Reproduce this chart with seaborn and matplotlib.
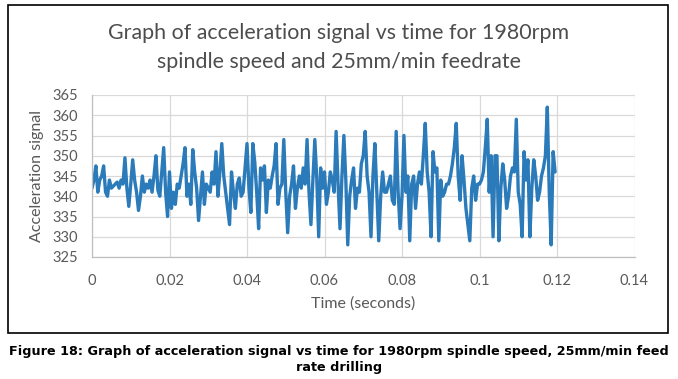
import matplotlib
matplotlib.use("Agg")
import matplotlib.pyplot as plt
import numpy as np
import pandas as pd
import seaborn as sns
from matplotlib.patches import Rectangle

# acceleration readings, 0.0005 s apart
accel = [
    342, 344, 347.5, 341, 344, 345, 347.5, 341, 340, 344,
    342, 342.5, 343, 343.5, 342, 344, 343, 349.5, 342, 337.5,
    343, 349, 344, 341, 336.5, 340, 345, 341, 343, 342,
    344, 341, 345, 350, 341.5, 340, 346, 352, 341, 335,
    346, 337, 341, 338, 343, 342, 345, 348, 352, 340,
    343, 338, 351.5, 346, 342, 334, 340, 346, 338, 343,
    342, 341, 346, 343, 351, 340, 346, 353, 345, 341,
    337, 333, 346, 341, 337, 343, 344.5, 340, 341, 347,
    353, 342, 336, 353, 348.5, 341, 332, 347, 344, 347.5,
    336, 344, 342, 345, 347.5, 353, 338, 342, 343, 354,
    341, 331, 340, 343, 347.5, 337, 342, 345, 342, 347,
    343, 354, 341, 333, 344, 354, 344.5, 330, 347, 342,
    346, 338, 341, 346, 344, 341, 356, 343, 332, 345,
    355, 344, 328, 340, 344, 347, 337, 342, 341, 348,
    350, 356, 345, 341, 330, 345, 353, 341, 329, 340,
    346, 341, 341, 343, 345, 339, 338, 356, 341, 332,
    340, 355, 341, 345, 329, 343, 345, 337, 343, 346,
    343, 350, 358, 346, 341, 330, 351, 346, 347, 329,
    344, 340, 341, 343, 343, 345, 348, 352, 358, 345,
    339, 350, 344, 337, 333, 329, 342, 345, 339, 343,
    343, 344, 346, 352, 359, 341, 350, 330, 350, 350,
    329, 342, 348, 344, 337, 340, 345, 347, 346, 359,
    341, 338, 330, 351, 344, 349, 330, 342, 349, 345,
    339, 341, 345, 347, 350, 362, 341, 328, 351, 346,
]
sample_step = 0.0005
x_ticks = [0, 0.02, 0.04, 0.06, 0.08, 0.1, 0.12, 0.14]
x_tick_labels = ["0", "0.02", "0.04", "0.06", "0.08", "0.1", "0.12", "0.14"]
y_ticks = [325, 330, 335, 340, 345, 350, 355, 360, 365]

df = pd.DataFrame({"time": np.arange(len(accel)) * sample_step, "accel": accel})

sns.set_style("white")
plt.rcParams["font.family"] = ["Lato", "DejaVu Sans"]

grey = "#595959"
fig = plt.figure(figsize=(6.78, 3.79), dpi=100)
ax = fig.add_axes([92 / 678, 1 - 257 / 379, (634.5 - 92) / 678, (257 - 95) / 379])

sns.lineplot(data=df, x="time", y="accel", ax=ax, color="#2b7bba", linewidth=2.4)

ax.set_xlim(0, 0.14)
ax.set_ylim(325, 365)
ax.set_xticks(x_ticks)
ax.set_xticklabels(x_tick_labels)
ax.set_yticks(y_ticks)
ax.grid(True, color="#d9d9d9", linewidth=0.9)
ax.set_axisbelow(True)
for side in ["top", "right"]:
    ax.spines[side].set_visible(False)
for side in ["left", "bottom"]:
    ax.spines[side].set_color("#bfbfbf")
    ax.spines[side].set_linewidth(0.9)
ax.tick_params(axis="x", length=0, labelsize=10.5, colors=grey, pad=12)
ax.tick_params(axis="y", length=0, labelsize=10.5, colors=grey, pad=10)
ax.set_xlabel("Time (seconds)", fontsize=11.5, color=grey, labelpad=6)
ax.set_ylabel("Acceleration signal", fontsize=11.5, color=grey, labelpad=6)

fig.text(0.5, 1 - 33 / 379, "Graph of acceleration signal vs time for 1980rpm",
         ha="center", va="center", fontsize=15.4, color="#4d4d4d")
fig.text(0.5, 1 - 62 / 379, "spindle speed and 25mm/min feedrate",
         ha="center", va="center", fontsize=15.4, color="#4d4d4d")

# outer chart border
fig.patches.append(Rectangle((8 / 678, 1 - 333 / 379), 660 / 678, 328 / 379,
                             transform=fig.transFigure, fill=False,
                             edgecolor="black", linewidth=1.2))

fig.text(0.5, 1 - 352 / 379,
         "Figure 18: Graph of acceleration signal vs time for 1980rpm spindle speed, 25mm/min feed",
         ha="center", va="center", fontsize=9.2, fontweight="bold",
         family=["DejaVu Sans"], color="black")
fig.text(0.5, 1 - 367 / 379, "rate drilling",
         ha="center", va="center", fontsize=9.2, fontweight="bold",
         family=["DejaVu Sans"], color="black")

fig.savefig("out.png", dpi=100)
